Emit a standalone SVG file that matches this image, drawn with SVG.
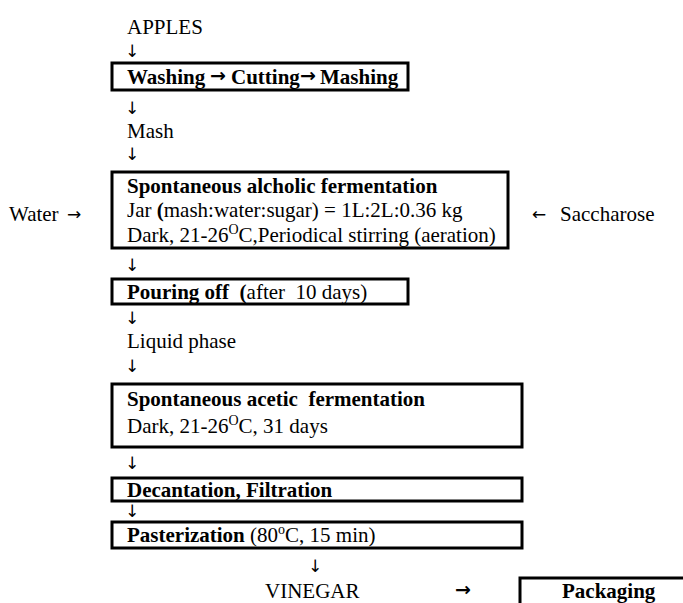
<svg xmlns="http://www.w3.org/2000/svg" width="683" height="603" viewBox="0 0 683 603">
<style>
text{font-family:"Liberation Serif","Times New Roman",serif;font-size:21px;fill:#000}
.b{font-weight:bold}
.box{fill:none;stroke:#000;stroke-width:3}
.ar{font-family:"DejaVu Sans",sans-serif;font-size:17px}
.ab{font-family:"DejaVu Sans",sans-serif;font-size:19px;font-weight:bold}
.sup{font-size:14px}
</style>
<rect width="683" height="603" fill="#fff"/>
<g id="connectors">
<text class="ar" x="125" y="57">↓</text>
<text class="ar" x="125" y="114">↓</text>
<text class="ar" x="125" y="160">↓</text>
<text class="ar" x="67" y="220">→</text>
<text class="ar" x="532" y="220">←</text>
<text class="ar" x="125" y="271">↓</text>
<text class="ar" x="125" y="324">↓</text>
<text class="ar" x="125" y="372">↓</text>
<text class="ar" x="125" y="469">↓</text>
<text class="ar" x="125" y="517">↓</text>
<text class="ar" x="308" y="572">↓</text>
<text class="ab" x="455" y="596">→</text>
</g>
<g id="apples"><text x="127" y="34">APPLES</text></g>
<g id="washing">
<rect class="box" x="112" y="63" width="296" height="27"/>
<text class="b" x="127" y="84">Washing</text>
<text class="ab" x="210" y="82">→</text>
<text class="b" x="231" y="84">Cutting</text>
<text class="ab" x="300" y="82">→</text>
<text class="b" x="320" y="84">Mashing</text>
</g>
<g id="mash"><text x="127" y="138">Mash</text></g>
<g id="water"><text x="9" y="221">Water</text></g>
<g id="saccharose"><text x="560" y="221">Saccharose</text></g>
<g id="alcoholic">
<rect class="box" x="112" y="172" width="396" height="76"/>
<text class="b" x="127" y="193">Spontaneous alcholic fermentation</text>
<text x="127" y="217">Jar <tspan class="b">(</tspan>mash:water:sugar) = 1L:2L:0.36 kg</text>
<text x="127" y="242">Dark, 21-26<tspan class="sup" dy="-8">O</tspan><tspan dy="8">C,Periodical stirring (aeration)</tspan></text>
</g>
<g id="pouring">
<rect class="box" x="112" y="279" width="296" height="25"/>
<text x="127" y="299" xml:space="preserve"><tspan class="b">Pouring off  (</tspan>after  10 days)</text>
</g>
<g id="liquid"><text x="127" y="348">Liquid phase</text></g>
<g id="acetic">
<rect class="box" x="112" y="384" width="410" height="63"/>
<text class="b" x="127" y="406" xml:space="preserve">Spontaneous acetic  fermentation</text>
<text x="127" y="433">Dark, 21-26<tspan class="sup" dy="-8">O</tspan><tspan dy="8">C, 31 days</tspan></text>
</g>
<g id="decantation">
<rect class="box" x="112" y="478" width="410" height="23"/>
<text class="b" x="127" y="497">Decantation, Filtration</text>
</g>
<g id="pasterization">
<rect class="box" x="112" y="522" width="410" height="26"/>
<text x="127" y="542"><tspan class="b">Pasterization</tspan> (80<tspan class="sup" dy="-8">o</tspan><tspan dy="8">C, 15 min)</tspan></text>
</g>
<g id="vinegar"><text x="265" y="598">VINEGAR</text></g>
<g id="packaging">
<rect class="box" x="520" y="578" width="180" height="40"/>
<text class="b" x="562" y="598">Packaging</text>
</g>
</svg>
